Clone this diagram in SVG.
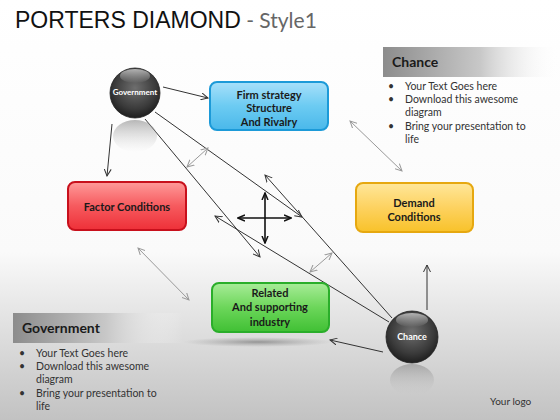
<svg xmlns="http://www.w3.org/2000/svg" width="560" height="420" viewBox="0 0 560 420">
<defs>
<style>
.bx{font-family:Lato,"Open Sans",sans-serif;font-weight:bold;font-size:11px;fill:#1a1a1a;text-anchor:middle}
.hd{font-family:Lato,"Open Sans",sans-serif;font-weight:bold;font-size:14px;fill:#1a1a1a}
.bl{font-family:Lato,"Open Sans",sans-serif;font-size:10.5px;fill:#333}
.ln{stroke:#333;stroke-width:1;fill:none;marker-end:url(#ah)}
.dl{stroke:#999;stroke-width:1;fill:none;marker-end:url(#ag);marker-start:url(#ag)}
.cr{stroke:#111;stroke-width:1.6;fill:none;marker-end:url(#ak);marker-start:url(#ak)}
.st{font-family:Lato,"Open Sans",sans-serif;font-weight:bold;fill:#fff;text-anchor:middle}
</style>
<linearGradient id="bg" x1="0" y1="0" x2="0" y2="1">
<stop offset="0" stop-color="#fff"/><stop offset="0.6" stop-color="#fafafa"/><stop offset="0.75" stop-color="#e4e4e4"/><stop offset="1" stop-color="#c2c2c2"/>
</linearGradient>
<radialGradient id="sph" cx="0.5" cy="0.4" r="0.6">
<stop offset="0" stop-color="#6e6e6e"/><stop offset="0.7" stop-color="#3a3a3a"/><stop offset="1" stop-color="#1e1e1e"/>
</radialGradient>
<linearGradient id="gl" x1="0" y1="0" x2="0" y2="1">
<stop offset="0" stop-color="#fff" stop-opacity="0.6"/><stop offset="1" stop-color="#fff" stop-opacity="0"/>
</linearGradient>
<linearGradient id="rf" x1="0" y1="0" x2="0" y2="1">
<stop offset="0" stop-color="#888" stop-opacity="0.6"/><stop offset="1" stop-color="#ccc" stop-opacity="0"/>
</linearGradient>
<linearGradient id="hg" x1="0" y1="0" x2="1" y2="0">
<stop offset="0" stop-color="#8c8c8c"/><stop offset="0.55" stop-color="#c8c8c8"/><stop offset="1" stop-color="#fff" stop-opacity="0"/>
</linearGradient>
<linearGradient id="fb" x1="0" y1="0" x2="0" y2="1"><stop offset="0" stop-color="#a8e0fa"/><stop offset="0.5" stop-color="#6ccbf2"/><stop offset="1" stop-color="#4ab8ea"/></linearGradient>
<linearGradient id="fr" x1="0" y1="0" x2="0" y2="1"><stop offset="0" stop-color="#ff9a9a"/><stop offset="0.5" stop-color="#f65a5e"/><stop offset="1" stop-color="#ee3038"/></linearGradient>
<linearGradient id="fy" x1="0" y1="0" x2="0" y2="1"><stop offset="0" stop-color="#ffe79a"/><stop offset="0.5" stop-color="#fdd260"/><stop offset="1" stop-color="#f8c22a"/></linearGradient>
<linearGradient id="fg" x1="0" y1="0" x2="0" y2="1"><stop offset="0" stop-color="#a8ec98"/><stop offset="0.5" stop-color="#6cd65a"/><stop offset="1" stop-color="#40c034"/></linearGradient>
<radialGradient id="sh" cx="0.5" cy="0.5" r="0.5"><stop offset="0" stop-color="#666" stop-opacity="0.6"/><stop offset="1" stop-color="#888" stop-opacity="0"/></radialGradient>
<marker id="ah" markerWidth="8" markerHeight="8" refX="7" refY="4" orient="auto-start-reverse" markerUnits="userSpaceOnUse"><path d="M0,0.5 L7,4 L0,7.5" fill="none" stroke="#333" stroke-width="1"/></marker>
<marker id="ag" markerWidth="8" markerHeight="8" refX="7" refY="4" orient="auto-start-reverse" markerUnits="userSpaceOnUse"><path d="M0,0.5 L7,4 L0,7.5" fill="none" stroke="#999" stroke-width="1"/></marker>
<marker id="ak" markerWidth="8" markerHeight="8" refX="7" refY="4" orient="auto-start-reverse" markerUnits="userSpaceOnUse"><path d="M0,1 L7,4 L0,7" fill="none" stroke="#111" stroke-width="1.5"/></marker>
</defs>
<rect width="560" height="420" fill="url(#bg)"/>
<text x="15" y="28" font-family="Liberation Sans,Arial,sans-serif" font-size="23" fill="#111">PORTERS DIAMOND<tspan font-family="Lato,Open Sans,sans-serif" font-size="21" fill="#666"> - Style1</tspan></text>

<g id="chance-panel">
<rect x="383" y="47" width="177" height="30" fill="url(#hg)"/>
<text class="hd" x="392" y="67">Chance</text>
<text class="bl" x="388" y="90">•</text><text class="bl" x="405" y="90">Your Text Goes here</text>
<text class="bl" x="388" y="103">•</text><text class="bl" x="405" y="103">Download this awesome</text>
<text class="bl" x="405" y="116">diagram</text>
<text class="bl" x="388" y="130">•</text><text class="bl" x="405" y="130">Bring your presentation to</text>
<text class="bl" x="405" y="143">life</text>
</g>
<g id="government-panel">
<rect x="13" y="313" width="170" height="30" fill="url(#hg)"/>
<text class="hd" x="22" y="333">Government</text>
<text class="bl" x="19" y="357">•</text><text class="bl" x="36" y="357">Your Text Goes here</text>
<text class="bl" x="19" y="370">•</text><text class="bl" x="36" y="370">Download this awesome</text>
<text class="bl" x="36" y="383">diagram</text>
<text class="bl" x="19" y="397">•</text><text class="bl" x="36" y="397">Bring your presentation to</text>
<text class="bl" x="36" y="410">life</text>
</g>

<g id="connectors">
<line class="ln" x1="163" y1="87" x2="208" y2="98"/>
<line class="ln" x1="112" y1="124" x2="107" y2="176"/>
<line class="ln" x1="155" y1="112" x2="302" y2="217"/>
<line class="ln" x1="145" y1="119" x2="260" y2="257"/>
<line class="ln" x1="392" y1="318" x2="265" y2="175"/>
<line class="ln" x1="389" y1="322" x2="215" y2="216"/>
<line class="ln" x1="383" y1="352" x2="330" y2="340"/>
<line class="ln" x1="427" y1="310" x2="427" y2="265"/>
<line class="dl" x1="187" y1="167" x2="208" y2="148"/>
<line class="dl" x1="310" y1="272" x2="332" y2="253"/>
<line class="dl" x1="138" y1="248" x2="189" y2="300"/>
<line class="dl" x1="350" y1="121" x2="402" y2="171"/>
<line class="cr" x1="238" y1="218" x2="291" y2="218"/>
<line class="cr" x1="265" y1="193" x2="265" y2="243"/>
</g>

<g id="government">
<ellipse cx="135" cy="136" rx="22" ry="16" fill="url(#rf)"/>
<circle cx="135" cy="93" r="25" fill="url(#sph)" stroke="#222" stroke-width="0.8"/>
<ellipse cx="135" cy="76" rx="15" ry="7" fill="url(#gl)"/>
<text class="st" x="135" y="95" font-size="8">Government</text>
</g>
<g id="chance">
<ellipse cx="412" cy="380" rx="22" ry="16" fill="url(#rf)"/>
<circle cx="412" cy="337" r="26" fill="url(#sph)" stroke="#222" stroke-width="0.8"/>
<ellipse cx="412" cy="320" rx="16" ry="7" fill="url(#gl)"/>
<text class="st" x="412" y="340" font-size="9">Chance</text>
</g>
<g id="firm">
<rect x="210" y="82" width="118" height="48" rx="7" fill="url(#fb)" stroke="#1c9ad8" stroke-width="2"/>
<text class="bx" x="269" y="99">Firm strategy</text>
<text class="bx" x="269" y="112">Structure</text>
<text class="bx" x="269" y="126">And Rivalry</text>
</g>
<g id="factor">
<rect x="68" y="182" width="118" height="48" rx="7" fill="url(#fr)" stroke="#c8101c" stroke-width="2"/>
<text class="bx" x="127" y="211">Factor Conditions</text>
</g>
<g id="demand">
<rect x="356" y="183" width="117" height="49" rx="7" fill="url(#fy)" stroke="#e6a810" stroke-width="2"/>
<text class="bx" x="414" y="207">Demand</text>
<text class="bx" x="414" y="221">Conditions</text>
</g>
<g id="related">
<ellipse cx="258" cy="342" rx="75" ry="5" fill="url(#sh)"/>
<rect x="212" y="283" width="117" height="49" rx="7" fill="url(#fg)" stroke="#2aae2a" stroke-width="2"/>
<text class="bx" x="270" y="297">Related</text>
<text class="bx" x="270" y="311">And supporting</text>
<text class="bx" x="270" y="326">industry</text>
</g>
<text x="490" y="405" font-family="Lato,Open Sans,sans-serif" font-size="10" fill="#333">Your logo</text>
</svg>
